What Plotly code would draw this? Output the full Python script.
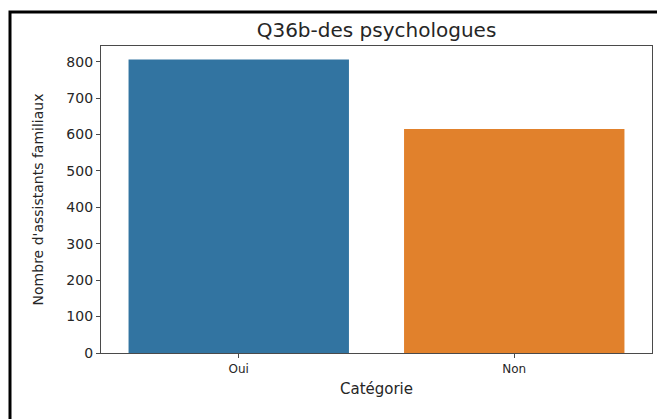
import plotly.graph_objects as go

# data
categories = ["Oui", "Non"]
counts = [806, 615]
bar_colors = ["#3274a1", "#e1812c"]

# the page puts the figure 8px in from the top-left corner, so the figure
# is 8px smaller than the window and all positions are shifted by 8px
W, H = 657, 411
# plot area in figure pixels
left, right, top, bottom = 93, 644, 38, 345

fig = go.Figure()
fig.add_trace(go.Bar(
    x=categories,
    y=counts,
    marker=dict(color=bar_colors, line=dict(width=0)),
    width=0.8,
))

axis_style = dict(
    showline=True, linecolor="#4a4a4a", linewidth=1.2, mirror=True,
    ticks="outside", ticklen=4, tickcolor="#4a4a4a", tickwidth=1,
    showgrid=False, zeroline=False, automargin=False,
)

fig.update_layout(
    width=W, height=H,
    margin=dict(l=left, r=W - right, t=top, b=H - bottom, pad=0),
    paper_bgcolor="white", plot_bgcolor="white",
    font=dict(family="DejaVu Sans", color="#262626"),
    showlegend=False,
    title=dict(text="Q36b-des psychologues", x=(left + right) / 2 / W, xanchor="center",
               y=1 - 22 / H, yanchor="middle", font=dict(size=20)),
    xaxis=dict(axis_style, range=[-0.5, 1.5], tickfont=dict(size=12),
               title=dict(text="Catégorie", font=dict(size=15), standoff=8)),
    yaxis=dict(axis_style, range=[0, 843], dtick=100, tickfont=dict(size=14),
               title=dict(text="Nombre d'assistants familiaux", font=dict(size=14), standoff=19)),
)

# outer black frame (right and bottom sides fall outside the picture)
pw, ph = right - left, bottom - top
fig.add_shape(
    type="rect", xref="paper", yref="paper",
    x0=(2 - left) / pw, x1=(700 - left) / pw,
    y0=(bottom - 460) / ph, y1=(bottom - 4) / ph,
    line=dict(color="black", width=3), fillcolor="rgba(0,0,0,0)",
)

fig.write_html("out.html")
